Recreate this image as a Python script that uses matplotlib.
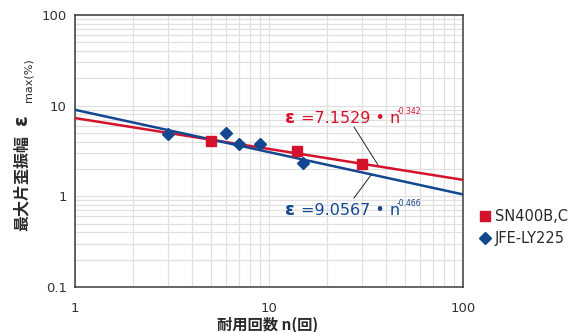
import numpy as np
import matplotlib
matplotlib.use("Agg")
import matplotlib.pyplot as plt
from matplotlib.ticker import FixedLocator, LogLocator, NullFormatter
from matplotlib.lines import Line2D

plt.rcParams['font.family'] = ['DejaVu Sans', 'Noto Sans CJK JP']

# ---- data ----
sn_n = [5, 14, 30]
sn_eps = [4.07, 3.16, 2.27]
jfe_n = [3, 6, 7, 9, 15]
jfe_eps = [4.9, 5.0, 3.78, 3.75, 2.33]
fit_n = [1, 100]
sn_fit = [7.3, 1.52]
jfe_fit = [9.0, 1.05]
x_ticks = [1, 10, 100]
x_tick_labels = ["1", "10", "100"]
y_ticks = [0.1, 1, 10, 100]
y_tick_labels = ["0.1", "1", "10", "100"]
series_names = ["SN400B,C", "JFE-LY225"]
sn_eq = ["=7.1529 • n", "-0.342"]
jfe_eq = ["=9.0567 • n", "-0.466"]
xlabel_text = "耐用回数 n(回)"
ylabel_main = "最大片歪振幅"
ylabel_sub = "max(%)"

RED = '#d4122b'
BLUE = '#13478f'
DARK = '#2a2a2a'
W, H = 574, 332

def fx(px):
    return px / W

def fy(py):
    return 1 - py / H

fig = plt.figure(figsize=(W / 100, H / 100), dpi=100)
ax = fig.add_axes([fx(75), fy(287), 388 / W, 272 / H])
ax.set_xscale('log')
ax.set_yscale('log')
ax.set_xlim(1, 100)
ax.set_ylim(0.1, 100)

ax.xaxis.set_major_locator(FixedLocator(x_ticks))
ax.set_xticklabels(x_tick_labels)
ax.yaxis.set_major_locator(FixedLocator(y_ticks))
ax.set_yticklabels(y_tick_labels)
for axis in (ax.xaxis, ax.yaxis):
    axis.set_minor_locator(LogLocator(base=10, subs=np.arange(2, 10)))
    axis.set_minor_formatter(NullFormatter())
ax.tick_params(which='both', length=0, labelsize=9.5, labelcolor='#333333')
ax.tick_params(axis='x', pad=11)
ax.tick_params(axis='y', pad=6)
ax.grid(True, which='both', color='#e0e0e0', lw=0.9)
ax.set_axisbelow(True)
for s in ax.spines.values():
    s.set_color('#3a3a3a')
    s.set_linewidth(1.1)

ax.plot(fit_n, sn_fit, color=RED, lw=1.8, zorder=3)
ax.plot(fit_n, jfe_fit, color=BLUE, lw=1.8, zorder=3)
ax.plot(sn_n, sn_eps, ls='none', marker='s', ms=6.5, color=RED, zorder=4)
ax.plot(jfe_n, jfe_eps, ls='none', marker='D', ms=6.5, color=BLUE, zorder=4)

# equations
def axf(px, py):
    return ((px - 75) / 388, (287 - py) / 272)

for col, eq, base in ((RED, sn_eq, 123), (BLUE, jfe_eq, 215)):
    x0, y0 = axf(285, base)
    ax.text(x0, y0, "ε", transform=ax.transAxes, color=col, fontsize=13,
            fontweight='bold', va='baseline', ha='left')
    x1, _ = axf(301, base)
    ax.text(x1, y0, eq[0], transform=ax.transAxes, color=col, fontsize=11.5,
            va='baseline', ha='left')
    x2, y2 = axf(397, base - 9)
    ax.text(x2, y2, eq[1], transform=ax.transAxes, color=col, fontsize=5.5,
            va='baseline', ha='left')

# leader lines
for p0, p1 in (((354, 127), (378, 165)), ((371, 175), (354, 198))):
    ax.annotate("", xy=axf(*p1), xytext=axf(*p0), xycoords='axes fraction',
                textcoords='axes fraction',
                arrowprops=dict(arrowstyle='-', color='#222222', lw=0.7,
                                shrinkA=0, shrinkB=0))

# y label pieces
fig.text(fx(22), fy(183), ylabel_main, rotation=90, ha='center', va='center',
         fontsize=11.5, fontweight='bold', color=DARK,
         family=['Noto Sans CJK JP', 'DejaVu Sans'])
fig.text(fx(22), fy(120), "ε", rotation=90, ha='center', va='center',
         fontsize=14, fontweight='bold', color=DARK)
fig.text(fx(29), fy(80), ylabel_sub, rotation=90, ha='center', va='center',
         fontsize=8, color=DARK)

# x label
fig.text(fx(268), fy(325), xlabel_text, ha='center', va='center',
         fontsize=11, fontweight='bold', color=DARK,
         family=['Noto Sans CJK JP', 'DejaVu Sans'])

# legend
handles = [Line2D([], [], ls='none', marker='s', ms=6.5, color=RED),
           Line2D([], [], ls='none', marker='D', ms=6.5, color=BLUE)]
fig.legend(handles, series_names, loc='upper left',
           bbox_to_anchor=(fx(472), fy(202)), frameon=False,
           fontsize=10.5, handlelength=0.8, handletextpad=0.25,
           labelspacing=0.45, borderpad=0, labelcolor=DARK)

fig.savefig('out.png', dpi=100)
